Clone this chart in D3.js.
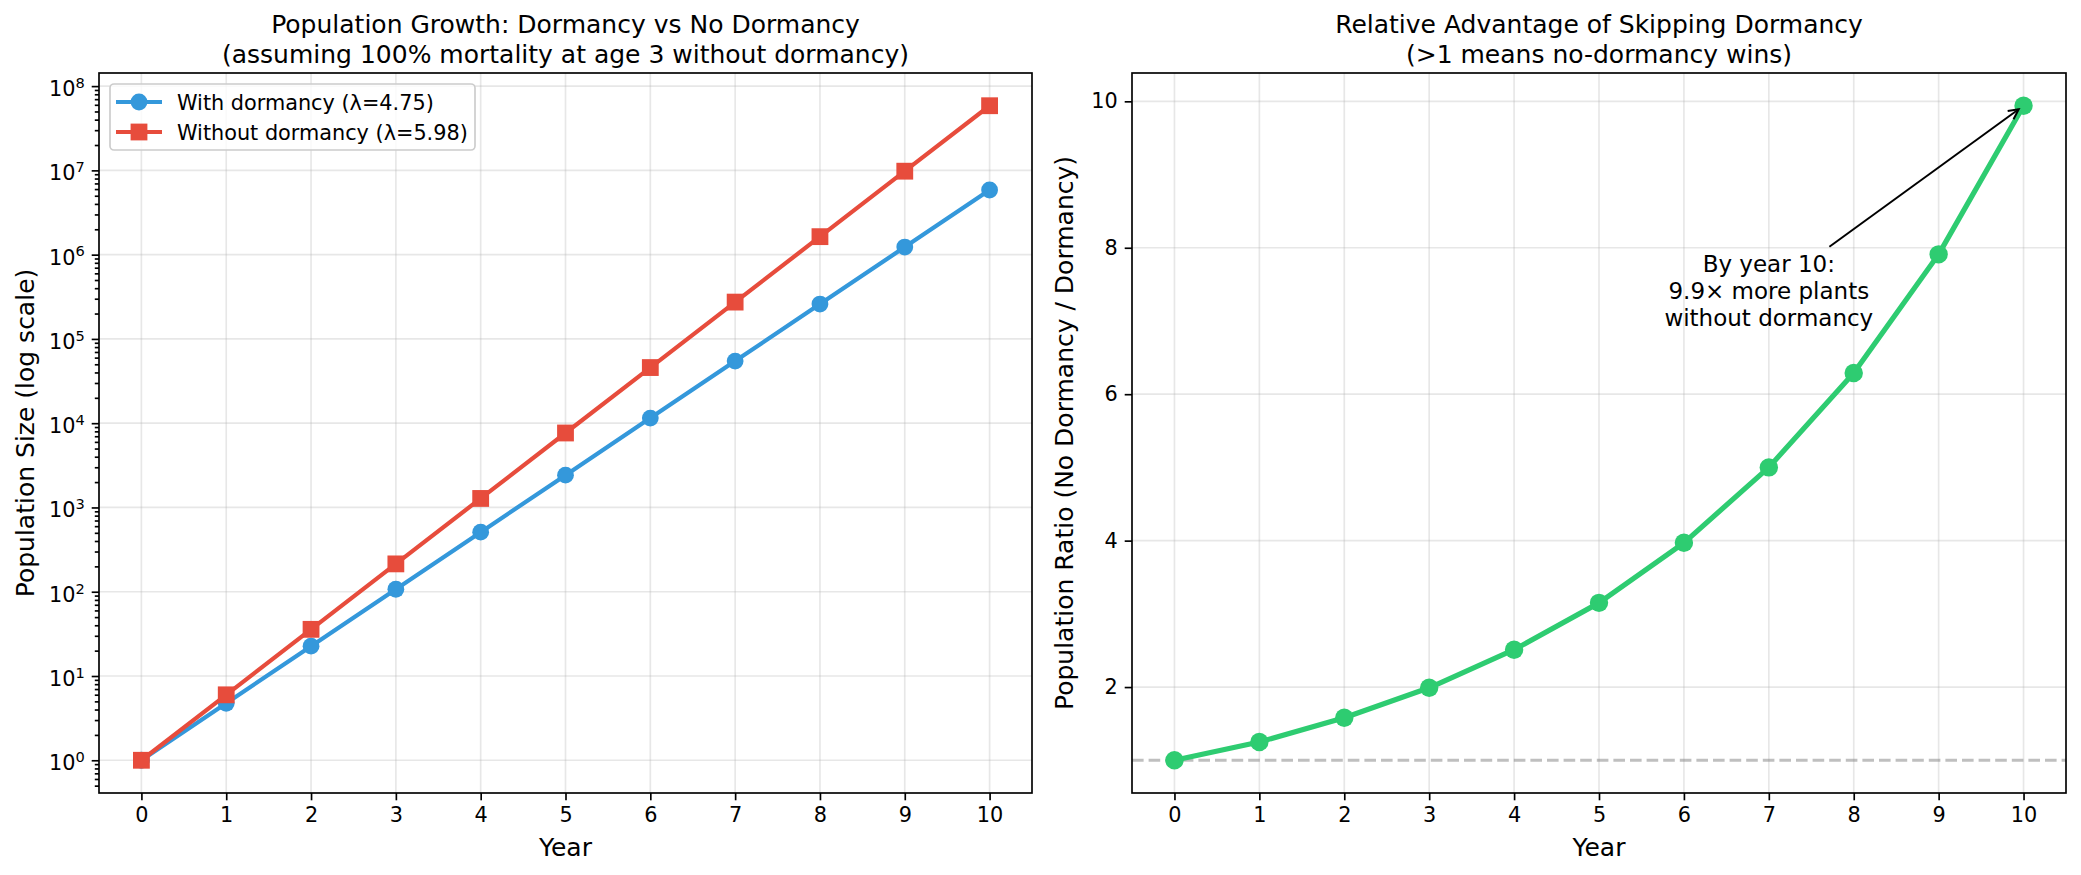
<!DOCTYPE html>
<html>
<head>
<meta charset="utf-8">
<script src="https://cdn.jsdelivr.net/npm/d3@7"></script>
<style>
  body { margin: 0; background: white; }
  svg { display: block; font-family: "DejaVu Sans", sans-serif; }
  .grid line { stroke: #b0b0b0; stroke-opacity: 0.3; stroke-width: 1.67; }
  .axis path { display: none; }
  .axis line { stroke: #000; stroke-width: 1.67; }
  .axis .minor line { stroke-width: 1.25; }
  .axis text { font-size: 20.8px; fill: #000; font-family: "DejaVu Sans", sans-serif; }
</style>
</head>
<body>
<svg></svg>
<script>
// data
const years = [0, 1, 2, 3, 4, 5, 6, 7, 8, 9, 10];
const withDormancy = [1, 4.75, 22.6, 107, 509, 2418, 11490, 54560, 259200, 1231000, 5847000];
const withoutDormancy = [1, 5.98, 35.8, 214, 1279, 7650, 45730, 273500, 1635000, 9780000, 58500000];
const ratio = [1, 1.25, 1.58, 1.99, 2.51, 3.15, 3.97, 5.0, 6.29, 7.91, 9.94];
const logExponents = [0, 1, 2, 3, 4, 5, 6, 7, 8];
const ratioTicks = [2, 4, 6, 8, 10];
const legendLabels = ["With dormancy (λ=4.75)", "Without dormancy (λ=5.98)"];
const annotationLines = ["By year 10:", "9.9× more plants", "without dormancy"];

const BLUE = "#3498db";
const RED = "#e74c3c";
const GREEN = "#2ecc71";

// svg
const width = 2081, height = 875;
const svg = d3.select("svg").attr("width", width).attr("height", height);

const plotTop = 73, plotBottom = 793;
const leftBox = { x0: 99, x1: 1032 };
const rightBox = { x0: 1132, x1: 2066 };

// scales
const x1 = d3.scaleLinear().domain([-0.5, 10.5]).range([leftBox.x0, leftBox.x1]);
const x2 = d3.scaleLinear().domain([-0.5, 10.5]).range([rightBox.x0, rightBox.x1]);

const allPop = withDormancy.concat(withoutDormancy);
const lo = Math.log10(d3.min(allPop)), hi = Math.log10(d3.max(allPop));
const padL = (hi - lo) * 0.05;
const y1 = d3.scaleLog().domain([Math.pow(10, lo - padL), Math.pow(10, hi + padL)]).range([plotBottom, plotTop]);

const rMin = d3.min(ratio), rMax = d3.max(ratio);
const padR = (rMax - rMin) * 0.05;
const y2 = d3.scaleLinear().domain([rMin - padR, rMax + padR]).range([plotBottom, plotTop]);

// ---------- left panel ----------
const g1 = svg.append("g");

// grid
g1.append("g").attr("class", "grid").selectAll("line")
  .data(years).enter().append("line")
  .attr("x1", d => x1(d)).attr("x2", d => x1(d))
  .attr("y1", plotTop).attr("y2", plotBottom);
g1.append("g").attr("class", "grid").selectAll("line")
  .data(logExponents).enter().append("line")
  .attr("x1", leftBox.x0).attr("x2", leftBox.x1)
  .attr("y1", d => y1(Math.pow(10, d))).attr("y2", d => y1(Math.pow(10, d)));

// axes
g1.append("g").attr("class", "axis")
  .attr("transform", `translate(0,${plotBottom})`)
  .call(d3.axisBottom(x1).tickValues(years).tickSize(7.3).tickPadding(7).tickFormat(d3.format("d")));

const minorVals = [];
const yDom = y1.domain();
for (let e = -1; e <= 9; e++) {
  for (let m = 2; m <= 9; m++) {
    const v = m * Math.pow(10, e);
    if (v >= yDom[0] && v <= yDom[1]) minorVals.push(v);
  }
}
g1.append("g").attr("class", "axis minor")
  .attr("transform", `translate(${leftBox.x0},0)`)
  .call(d3.axisLeft(y1).tickValues(minorVals).tickSize(4.2).tickFormat(""));

const yAxis1 = g1.append("g").attr("class", "axis")
  .attr("transform", `translate(${leftBox.x0},0)`)
  .call(d3.axisLeft(y1).tickValues(logExponents.map(e => Math.pow(10, e))).tickSize(7.3).tickPadding(7).tickFormat(""));

yAxis1.selectAll(".tick text").each(function(d) {
  const t = d3.select(this).attr("dy", "0.45em");
  t.append("tspan").text("10");
  t.append("tspan").attr("dy", "-0.55em").style("font-size", "14.6px").text(Math.round(Math.log10(d)));
});

// lines
const line1 = data => d3.line().x((d, i) => x1(years[i])).y(d => y1(d))(data);
g1.append("path").attr("d", line1(withDormancy))
  .attr("fill", "none").attr("stroke", BLUE).attr("stroke-width", 4.2).attr("stroke-linejoin", "round");
g1.selectAll(".dot-with").data(withDormancy).enter().append("circle")
  .attr("cx", (d, i) => x1(years[i])).attr("cy", d => y1(d)).attr("r", 8.4).attr("fill", BLUE);

g1.append("path").attr("d", line1(withoutDormancy))
  .attr("fill", "none").attr("stroke", RED).attr("stroke-width", 4.2).attr("stroke-linejoin", "round");
g1.selectAll(".sq-without").data(withoutDormancy).enter().append("rect")
  .attr("x", (d, i) => x1(years[i]) - 8.4).attr("y", d => y1(d) - 8.4)
  .attr("width", 16.8).attr("height", 16.8).attr("fill", RED);

// frame
g1.append("rect").attr("x", leftBox.x0).attr("y", plotTop)
  .attr("width", leftBox.x1 - leftBox.x0).attr("height", plotBottom - plotTop)
  .attr("fill", "none").attr("stroke", "#000").attr("stroke-width", 1.67);

// legend
const legend = g1.append("g");
legend.append("rect").attr("x", 110).attr("y", 84).attr("width", 365).attr("height", 66).attr("rx", 4)
  .attr("fill", "white").attr("fill-opacity", 0.8).attr("stroke", "#cccccc").attr("stroke-width", 1.67);
legendLabels.forEach((lab, i) => {
  const ly = 102 + i * 30;
  const col = i === 0 ? BLUE : RED;
  legend.append("line").attr("x1", 116).attr("x2", 162).attr("y1", ly).attr("y2", ly)
    .attr("stroke", col).attr("stroke-width", 4.2);
  if (i === 0) {
    legend.append("circle").attr("cx", 139).attr("cy", ly).attr("r", 8.4).attr("fill", col);
  } else {
    legend.append("rect").attr("x", 139 - 8.4).attr("y", ly - 8.4).attr("width", 16.8).attr("height", 16.8).attr("fill", col);
  }
  legend.append("text").attr("x", 177).attr("y", ly + 7.5)
    .attr("font-size", "20.8px").text(lab);
});

// titles & labels
const cx1 = (leftBox.x0 + leftBox.x1) / 2;
g1.append("text").attr("x", cx1).attr("y", 33).attr("text-anchor", "middle").attr("font-size", "25px")
  .text("Population Growth: Dormancy vs No Dormancy");
g1.append("text").attr("x", cx1).attr("y", 63).attr("text-anchor", "middle").attr("font-size", "25px")
  .text("(assuming 100% mortality at age 3 without dormancy)");
g1.append("text").attr("x", cx1).attr("y", 856).attr("text-anchor", "middle").attr("font-size", "25px").text("Year");
g1.append("text").attr("transform", `translate(34,${(plotTop + plotBottom) / 2}) rotate(-90)`)
  .attr("text-anchor", "middle").attr("font-size", "25px").text("Population Size (log scale)");

// ---------- right panel ----------
const g2 = svg.append("g");

g2.append("g").attr("class", "grid").selectAll("line")
  .data(years).enter().append("line")
  .attr("x1", d => x2(d)).attr("x2", d => x2(d))
  .attr("y1", plotTop).attr("y2", plotBottom);
g2.append("g").attr("class", "grid").selectAll("line")
  .data(ratioTicks).enter().append("line")
  .attr("x1", rightBox.x0).attr("x2", rightBox.x1)
  .attr("y1", d => y2(d)).attr("y2", d => y2(d));

g2.append("g").attr("class", "axis")
  .attr("transform", `translate(0,${plotBottom})`)
  .call(d3.axisBottom(x2).tickValues(years).tickSize(7.3).tickPadding(7).tickFormat(d3.format("d")));
g2.append("g").attr("class", "axis")
  .attr("transform", `translate(${rightBox.x0},0)`)
  .call(d3.axisLeft(y2).tickValues(ratioTicks).tickSize(7.3).tickPadding(7).tickFormat(d3.format("d")));

// reference line at 1
g2.append("line").attr("x1", rightBox.x0).attr("x2", rightBox.x1)
  .attr("y1", y2(1)).attr("y2", y2(1))
  .attr("stroke", "#808080").attr("stroke-opacity", 0.5).attr("stroke-width", 3.1)
  .attr("stroke-dasharray", "11.6 5");

g2.append("path").attr("d", d3.line().x((d, i) => x2(years[i])).y(d => y2(d))(ratio))
  .attr("fill", "none").attr("stroke", GREEN).attr("stroke-width", 5.2).attr("stroke-linejoin", "round");
g2.selectAll(".dot-ratio").data(ratio).enter().append("circle")
  .attr("cx", (d, i) => x2(years[i])).attr("cy", d => y2(d)).attr("r", 9.2).attr("fill", GREEN);

g2.append("rect").attr("x", rightBox.x0).attr("y", plotTop)
  .attr("width", rightBox.x1 - rightBox.x0).attr("height", plotBottom - plotTop)
  .attr("fill", "none").attr("stroke", "#000").attr("stroke-width", 1.67);

// annotation
const annX = x2(7), annY = y2(8);
const ann = g2.append("text").attr("text-anchor", "middle").attr("font-size", "23px");
annotationLines.forEach((t, i) => {
  ann.append("tspan").attr("x", annX).attr("y", annY + 24 + i * 27).text(t);
});
const bb = ann.node().getBBox();
const tcx = bb.x + bb.width / 2, tcy = bb.y + bb.height / 2;
const px = x2(years[years.length - 1]), py = y2(ratio[ratio.length - 1]);
// arrow starts at the text box edge
const topEdge = bb.y - 4;
const tStart = (tcy - topEdge) / (tcy - py);
const sx = tcx + (px - tcx) * tStart, sy = topEdge;
const len = Math.hypot(px - sx, py - sy);
const ux = (px - sx) / len, uy = (py - sy) / len;
const ex = px - ux * 6, ey = py - uy * 6;
g2.append("line").attr("x1", sx).attr("y1", sy).attr("x2", ex).attr("y2", ey)
  .attr("stroke", "#000").attr("stroke-width", 2);
const hl = 10, hw = 5;
const bx = ex - ux * hl, by = ey - uy * hl;
g2.append("path")
  .attr("d", `M${bx - uy * hw},${by + ux * hw} L${ex},${ey} L${bx + uy * hw},${by - ux * hw}`)
  .attr("fill", "none").attr("stroke", "#000").attr("stroke-width", 2);

const cx2 = (rightBox.x0 + rightBox.x1) / 2;
g2.append("text").attr("x", cx2).attr("y", 33).attr("text-anchor", "middle").attr("font-size", "25px")
  .text("Relative Advantage of Skipping Dormancy");
g2.append("text").attr("x", cx2).attr("y", 63).attr("text-anchor", "middle").attr("font-size", "25px")
  .text("(>1 means no-dormancy wins)");
g2.append("text").attr("x", cx2).attr("y", 856).attr("text-anchor", "middle").attr("font-size", "25px").text("Year");
g2.append("text").attr("transform", `translate(1073,${(plotTop + plotBottom) / 2}) rotate(-90)`)
  .attr("text-anchor", "middle").attr("font-size", "25px").text("Population Ratio (No Dormancy / Dormancy)");
</script>
</body>
</html>
